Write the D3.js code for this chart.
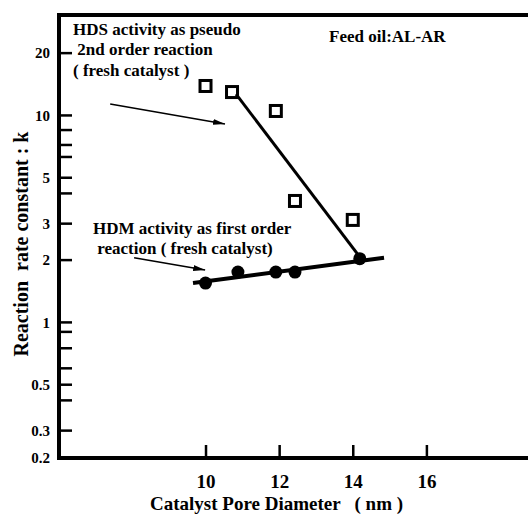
<!DOCTYPE html>
<html>
<head>
<meta charset="utf-8">
<script src="https://cdn.jsdelivr.net/npm/d3@7"></script>
<style>
  body { margin: 0; background: #fff; }
  svg { display: block; font-family: "Liberation Serif", "Times New Roman", serif; font-weight: bold; }
  svg text { font-family: "Liberation Serif", "Times New Roman", serif; font-weight: bold; white-space: pre; }
</style>
</head>
<body>
<div id="chart"></div>
<script>
// HDS (squares) and HDM (filled circles) rate constants vs pore diameter
const hdsX = [10.0, 10.72, 11.91, 12.43, 14.0];
const hdsK = [13.8, 12.9, 10.45, 3.84, 3.11];
const hdmX = [10.0, 10.88, 11.91, 12.43, 14.19];
const hdmK = [1.54, 1.74, 1.74, 1.74, 2.02];

// hand drawn trend lines
const hdsFitX = [10.83, 14.19];
const hdsFitK = [12.6, 2.06];
const hdmFitX = [9.66, 14.85];
const hdmFitK = [1.54, 2.04];

const xTicks = [10, 12, 14, 16];
const yTicks = [0.3, 0.5, 1, 2, 3, 5, 10, 20];
const yMinorTicks = [0.42, 0.6, 0.75, 0.9, 4.2, 6.3, 7.2, 8.5];
const yBottomLabel = "0.2";

const width = 528, height = 516;
const margin = {top: 15, left: 59, right: 0, bottom: 58};

const svg = d3.select("#chart").append("svg")
  .attr("width", width)
  .attr("height", height);

const x = d3.scaleLinear().domain([6.02, 18.76]).range([margin.left, width]);
const y = d3.scaleLog().domain([0.22, 30.4]).range([height - margin.bottom, margin.top]);

svg.append("defs").append("marker")
  .attr("id", "arrow")
  .attr("markerUnits", "userSpaceOnUse")
  .attr("markerWidth", 13).attr("markerHeight", 8)
  .attr("refX", 12).attr("refY", 4)
  .attr("orient", "auto")
  .append("path").attr("d", "M0,1L12,4L0,7Z").attr("fill", "#000");

// axes (ticks pointing inward)
const yAxis = svg.append("g")
  .attr("transform", `translate(${margin.left},0)`)
  .call(d3.axisLeft(y).tickValues(yTicks).tickSize(-13).tickPadding(9).tickFormat(d => d))
  .attr("font-family", null).attr("font-size", null);
yAxis.selectAll("text").style("font-size", "15px").attr("dy", "0.35em").attr("fill", "#000");

svg.append("g")
  .attr("transform", `translate(${margin.left},0)`)
  .call(d3.axisLeft(y).tickValues(yMinorTicks).tickSize(-13).tickFormat(""))
  .select(".domain").remove();

svg.append("text")
  .attr("x", margin.left - 9)
  .attr("y", y.range()[0])
  .attr("dy", "0.35em")
  .attr("text-anchor", "end")
  .style("font-size", "15px")
  .text(yBottomLabel);

const xAxis = svg.append("g")
  .attr("transform", `translate(0,${height - margin.bottom})`)
  .call(d3.axisBottom(x).tickValues(xTicks).tickSize(-13).tickPadding(17).tickFormat(d => d))
  .attr("font-family", null).attr("font-size", null);
xAxis.selectAll("text").style("font-size", "19px").attr("fill", "#000");

svg.selectAll(".tick line").attr("stroke", "#000").attr("stroke-width", 2.5);
svg.selectAll(".domain").remove();

// frame: left, bottom, top
svg.append("path")
  .attr("d", `M${width},${margin.top}H${margin.left}V${height - margin.bottom}H${width}`)
  .attr("fill", "none")
  .attr("stroke", "#000")
  .attr("stroke-width", 4);

// trend lines
const line = d3.line().x(d => x(d[0])).y(d => y(d[1]));
svg.append("path")
  .attr("d", line(d3.zip(hdsFitX, hdsFitK)))
  .attr("fill", "none").attr("stroke", "#000").attr("stroke-width", 3);
svg.append("path")
  .attr("d", line(d3.zip(hdmFitX, hdmFitK)))
  .attr("fill", "none").attr("stroke", "#000").attr("stroke-width", 4);

// markers
svg.selectAll("rect.hds")
  .data(d3.zip(hdsX, hdsK))
  .join("rect")
  .attr("class", "hds")
  .attr("x", d => x(d[0]) - 5.5)
  .attr("y", d => y(d[1]) - 5.5)
  .attr("width", 11).attr("height", 11)
  .attr("fill", "none").attr("stroke", "#000").attr("stroke-width", 3);

svg.selectAll("circle.hdm")
  .data(d3.zip(hdmX, hdmK))
  .join("circle")
  .attr("class", "hdm")
  .attr("cx", d => x(d[0]))
  .attr("cy", d => y(d[1]))
  .attr("r", 6.5)
  .attr("fill", "#000");

// annotations
const arrows = [
  [[7.41, 11.3], [10.53, 9.05]],
  [[8.06, 2.04], [9.99, 1.78]]
];
svg.selectAll("line.arrow")
  .data(arrows)
  .join("line")
  .attr("class", "arrow")
  .attr("x1", d => x(d[0][0])).attr("y1", d => y(d[0][1]))
  .attr("x2", d => x(d[1][0])).attr("y2", d => y(d[1][1]))
  .attr("stroke", "#000").attr("stroke-width", 1.5)
  .attr("marker-end", "url(#arrow)");

const notes = [
  {t: "HDS activity as pseudo", x: 73, y: 35},
  {t: " 2nd order reaction", x: 73, y: 55},
  {t: "( fresh catalyst )", x: 73, y: 76},
  {t: "Feed oil:AL-AR", x: 329, y: 42},
  {t: "HDM activity as first order", x: 93, y: 234},
  {t: " reaction ( fresh catalyst)", x: 93, y: 254}
];
svg.selectAll("text.note")
  .data(notes)
  .join("text")
  .attr("class", "note")
  .attr("x", d => d.x).attr("y", d => d.y)
  .style("font-size", "17px")
  .text(d => d.t);

// axis titles
svg.append("text")
  .attr("x", 150).attr("y", 510)
  .style("font-size", "19px")
  .text("Catalyst Pore Diameter   ( nm )");

svg.append("text")
  .attr("transform", "translate(28,244) rotate(-90)")
  .attr("text-anchor", "middle")
  .style("font-size", "20px")
  .text("Reaction  rate constant : k");
</script>
</body>
</html>
